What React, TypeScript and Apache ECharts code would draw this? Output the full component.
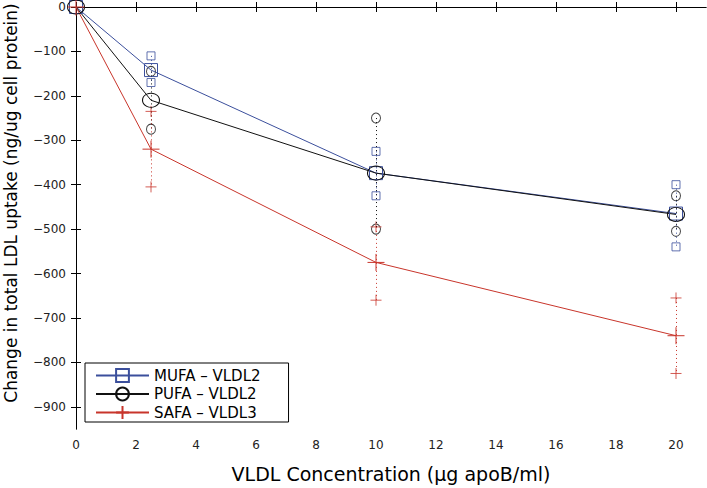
import React, { useEffect, useRef } from 'react';
import * as echarts from 'echarts';

const FONT = '"DejaVu Sans", "Liberation Sans", Arial, sans-serif';

const xMeans = [0, 2.5, 10, 20];
const xPoints = [2.5, 10, 20];

const mufaMean = [0, -142, -374, -465];
const pufaMean = [0, -210, -374, -467];
const safaMean = [0, -320, -575, -740];

const mufaHigh = [-110, -325, -400];
const mufaLow = [-170, -425, -540];
const pufaHigh = [-145, -250, -425];
const pufaLow = [-275, -500, -505];
const safaHigh = [-235, -495, -655];
const safaLow = [-405, -660, -825];

const xTicks = [0, 2, 4, 6, 8, 10, 12, 14, 16, 18, 20];
const yTicks = [-900, -800, -700, -600, -500, -400, -300, -200, -100, 0];

const names = ['MUFA – VLDL2', 'PUFA – VLDL2', 'SAFA – VLDL3'];
const BLUE = '#3b4f9c';
const BLACK = '#111111';
const RED = '#c8352b';
const PLUS = 'path://M0,-8L0,8M-8,0L8,0';

function groupSeries(
  name: string,
  color: string,
  symbol: string,
  meanSize: any,
  ptSize: any,
  means: number[],
  highs: number[],
  lows: number[]
) {
  const meanData = xMeans.map((x, i) => [x, means[i]]);
  const ptData: number[][] = [];
  const segs: any[] = [];
  xPoints.forEach((x, i) => {
    ptData.push([x, highs[i]]);
    ptData.push([x, lows[i]]);
    segs.push([{ coord: [x, highs[i]] }, { coord: [x, lows[i]] }]);
  });
  return [
    {
      name: name + ' pts',
      type: 'scatter',
      data: ptData,
      symbol,
      symbolSize: ptSize,
      itemStyle: { color: 'rgba(0,0,0,0)', borderColor: color, borderWidth: 1 },
      z: 3,
      silent: true,
      markLine: {
        silent: true,
        symbol: ['none', 'none'],
        label: { show: false },
        lineStyle: { color, width: 1, type: [1, 3] },
        data: segs,
      },
    },
    {
      name,
      type: 'line',
      data: meanData,
      symbol,
      symbolSize: meanSize,
      showAllSymbol: true,
      lineStyle: { color, width: 1 },
      itemStyle: { color: 'rgba(0,0,0,0)', borderColor: color, borderWidth: 1 },
      z: 4,
    },
  ];
}

const fmtY = (v: number) => (v < 0 ? '\u2212' + Math.abs(v) : String(v));

const option: any = {
  animation: false,
  backgroundColor: '#ffffff',
  textStyle: { fontFamily: FONT },
  grid: { left: 76, right: 1, top: 7, bottom: 55 },
  legend: {
    data: names,
    orient: 'vertical',
    left: 85,
    top: 363,
    padding: [5, 28, 2, 10],
    itemWidth: 53,
    itemHeight: 16,
    itemGap: 3.5,
    backgroundColor: '#ffffff',
    borderColor: '#000000',
    borderWidth: 1,
    borderRadius: 0,
    textStyle: { fontFamily: FONT, fontSize: 15, color: '#000' },
  },
  xAxis: [
    {
      type: 'value',
      min: 0,
      max: 21,
      name: 'VLDL Concentration (\u03bcg apoB/ml)',
      nameLocation: 'middle',
      nameGap: 35,
      nameTextStyle: { fontFamily: FONT, fontSize: 19, color: '#000' },
      axisLine: { lineStyle: { color: '#000', width: 1 } },
      axisTick: { inside: true, length: 5, customValues: xTicks, lineStyle: { color: '#000' } },
      axisLabel: { customValues: xTicks, fontFamily: FONT, fontSize: 12, color: '#222', margin: 10 },
      splitLine: { show: false },
    },
    {
      type: 'value',
      position: 'top',
      min: 0,
      max: 21,
      axisLine: { show: true, lineStyle: { color: '#000', width: 1 } },
      axisTick: { inside: true, length: 5, customValues: xTicks, lineStyle: { color: '#000' } },
      axisLabel: { show: false },
      splitLine: { show: false },
    },
  ],
  yAxis: [
    {
      type: 'value',
      min: -950,
      max: 0,
      axisLine: { show: true, lineStyle: { color: '#000', width: 1 } },
      axisTick: { show: true, inside: true, length: 5, customValues: yTicks, lineStyle: { color: '#000' } },
      axisLabel: { customValues: yTicks, formatter: fmtY, fontFamily: FONT, fontSize: 12, color: '#222', margin: 10 },
      splitLine: { show: false },
    },
    {
      type: 'value',
      position: 'right',
      min: -950,
      max: 0,
      axisLine: { show: true, lineStyle: { color: '#000', width: 1 } },
      axisTick: { show: true, inside: true, length: 5, customValues: yTicks, lineStyle: { color: '#000' } },
      axisLabel: { show: false },
      splitLine: { show: false },
    },
  ],
  graphic: [
    {
      type: 'text',
      x: 11,
      y: 203,
      rotation: Math.PI / 2,
      style: {
        text: 'Change in total LDL uptake (ng/ug cell protein)',
        fontFamily: FONT,
        fontSize: 17,
        fill: '#000',
        textAlign: 'center',
        textVerticalAlign: 'middle',
      },
    },
  ],
  series: [
    ...groupSeries(names[0], BLUE, 'rect', 13, 8, mufaMean, mufaHigh, mufaLow),
    ...groupSeries(names[1], BLACK, 'circle', [17, 14], [9, 10], pufaMean, pufaHigh, pufaLow),
    ...groupSeries(names[2], RED, PLUS, 17, 11, safaMean, safaHigh, safaLow),
  ],
};

export default function App() {
  const ref = useRef<HTMLDivElement>(null);
  useEffect(() => {
    if (!ref.current) return;
    const chart = echarts.init(ref.current, null, { renderer: 'svg' });
    chart.setOption(option);
    return () => chart.dispose();
  }, []);
  return (
    <div
      ref={ref}
      style={{ position: 'absolute', left: 0, top: 0, width: 707, height: 488 }}
    />
  );
}
